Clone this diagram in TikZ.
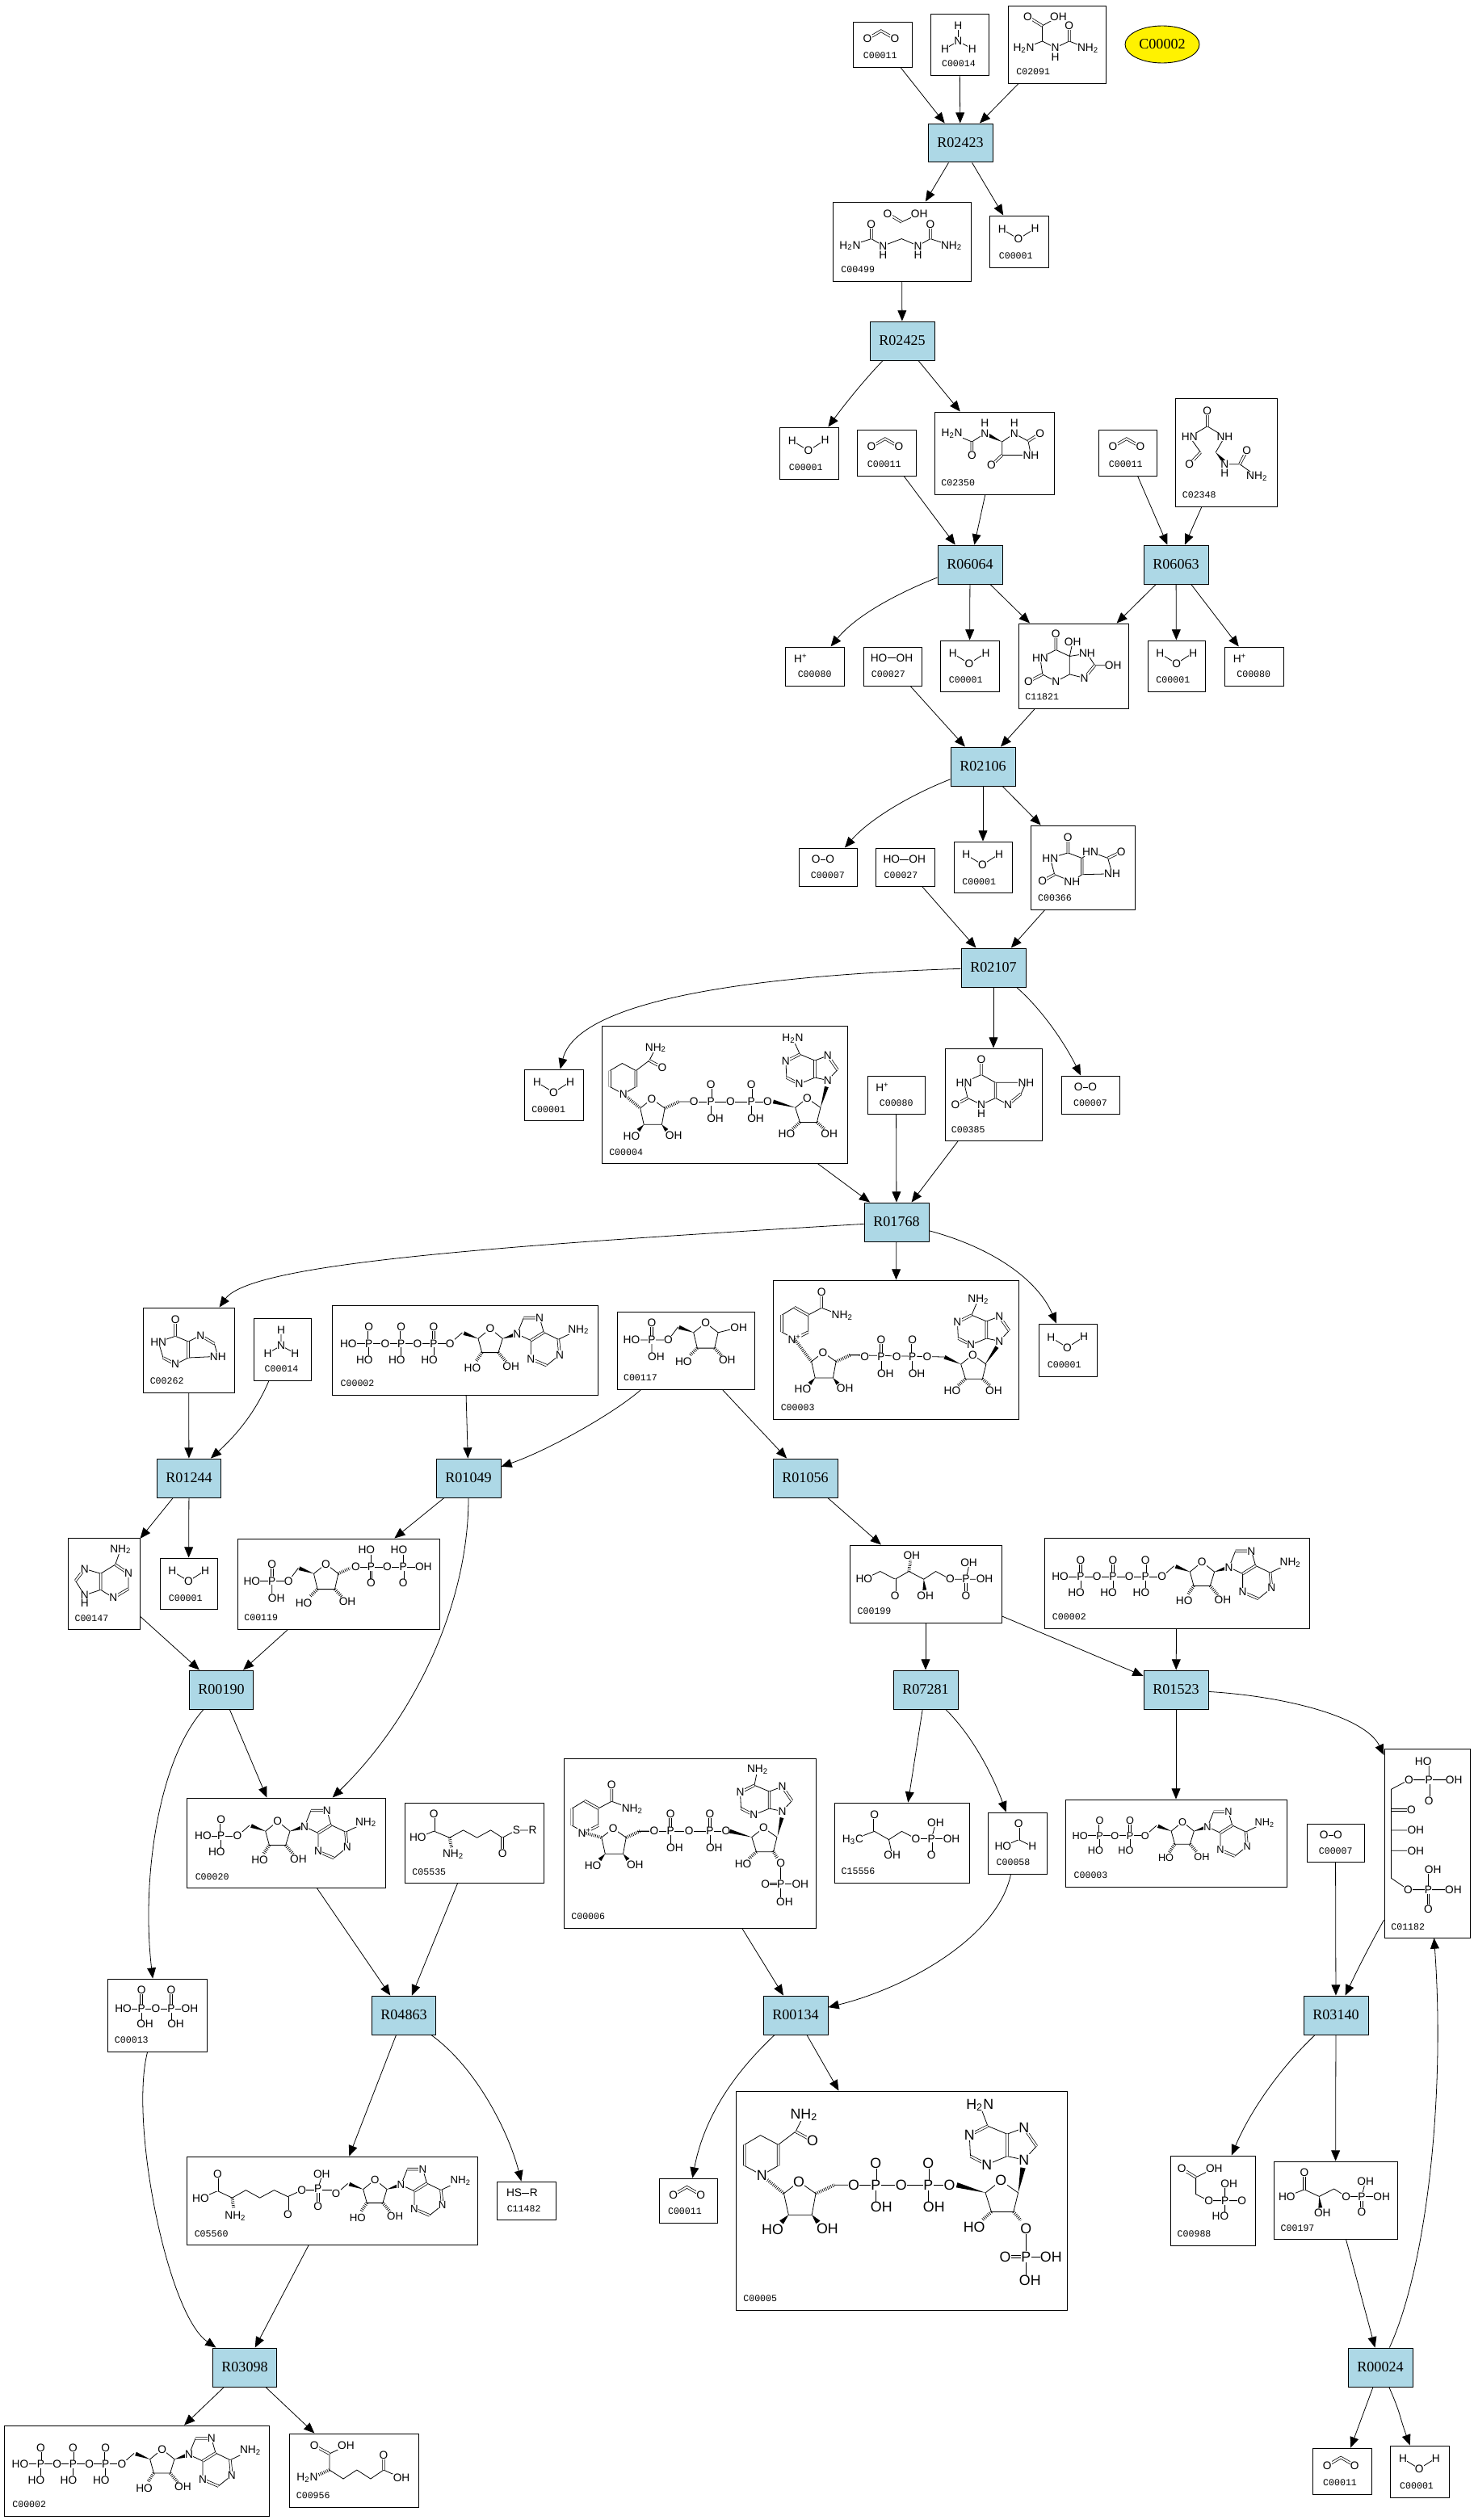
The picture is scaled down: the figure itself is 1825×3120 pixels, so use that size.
\documentclass[tikz,border=0pt]{standalone}
\usepackage{fontspec}
\setmainfont{Liberation Serif}
\setsansfont{Liberation Sans}
\setmonofont{Liberation Mono}
\usepackage{xcolor}
\usepackage{tikz}
\usetikzlibrary{arrows.meta,calc,shapes.geometric}
\definecolor{rxnblue}{RGB}{173,216,230}
\tikzset{
  rxn/.style={draw,fill=rxnblue,line width=0.02cm,minimum width=1.6cm,minimum height=0.96cm,inner sep=0pt,font=\fontsize{10.3}{12}\selectfont},
  cbox/.style={draw,line width=0.02cm,inner sep=0pt},
  tag/.style={anchor=west,inner sep=0pt,font=\ttfamily\fontsize{6.6}{7}\selectfont},
  flow/.style={-{Triangle[length=7.5pt,width=6.2pt]},line width=0.45pt},
  atom/.style={fill=white,inner sep=0.2pt,transform shape,font=\sffamily\fontsize{7.8}{9}\selectfont},
  bond/.style={line width=0.45pt},
  dbl/.style={double,double distance=1.1pt,line width=0.42pt},
  hashb/.style={line width=2.2pt,dash pattern=on 0.4pt off 0.9pt}
}
\newcounter{atomno}
\newcommand{\atm}[2]{\stepcounter{atomno}\node[atom] (atom\theatomno) at (#1) {#2};}
\newcommand{\wdg}[2]{\fill (#1)--($(#2)!1.4pt!90:(#1)$)--($(#2)!1.4pt!-90:(#1)$)--cycle;}
\newcommand{\hsh}[2]{\draw[hashb] (#1)--(#2);}
\newcommand{\NHtwo}{NH\textsubscript{2}}
\newcommand{\HtwoN}{H\textsubscript{2}N}
% compound box: [tag offset]{name}{x1}{y1}{x2}{y2}{tag}{molecule}
\newcommand{\cpd}[8][10]{%
  \node[cbox,minimum width={(round(#5)-round(#3))*0.02cm},minimum height={(round(#6)-round(#4))*0.02cm}] (#2) at ({(round(#3)+round(#5))/2},{(round(#4)+round(#6))/2}) {};
  \node[tag] (#2tag) at (#3+#1,#6-14) {#7};
  \begin{scope}[shift={(#3,#4)}]#8\end{scope}}
% small molecules
\newcommand{\mwater}{\draw[bond] (15.7,16.6)--(36,29)--(56.6,15.8);
  \atm{15.7,16.6}{H}\atm{36,29}{O}\atm{56.6,15.8}{H}}
\newcommand{\mcoo}{\draw[dbl] (18,21)--(34.8,11.2)--(52,21);
  \atm{18,21}{O}\atm{52,21}{O}}
\newcommand{\mammonia}{\draw[bond] (34.4,14.5)--(34.4,34) (18,43.5)--(34.4,34)--(51.7,43.5);
  \atm{34.4,14.5}{H}\atm{34.4,34}{N}\atm{18,43.5}{H}\atm{51.7,43.5}{H}}
\newcommand{\moxy}{\draw[dbl] (21.6,13.8)--(39,13.8);\atm{21.6,13.8}{O}\atm{39,13.8}{O}}
\newcommand{\mperox}{\draw[bond] (19.5,14.3)--(51.4,14.3);\atm{19.5,14.3}{HO}\atm{51.4,14.3}{OH}}
\newcommand{\mproton}{\atm{19,15}{H\textsuperscript{+}}}
% phosphate hanging from a chain
\newcommand{\phosgrp}[1]{\draw[dbl] (#1,47.7)--(#1,27.4);\draw[bond] (#1,47.7)--(#1,62);
  \atm{#1,47.7}{P}\atm{#1,27.4}{O}\atm{#1-5.4,67.7}{HO}}
\newcommand{\phosup}[2]{\draw[dbl] (#1,#2)--(#1,#2-21);\draw[bond] (#1,#2)--(#1,#2+16);
  \atm{#1,#2}{P}\atm{#1,#2-21}{O}\atm{#1+5.4,#2+21}{OH}}
% adenosine, lying flat
\newcommand{\adenosine}{\draw[bond] (146,47.7)--(161,34.4);
  \wdg{180.7,41.7}{163,35}
  \draw[bond] (180.7,41.7)--(195.7,29.4)--(211,41.7)--(205.7,59)--(185.4,59)--cycle;
  \hsh{185.4,59}{178,70}\hsh{205.7,59}{215,70}
  \wdg{211,41.7}{226,37}
  \draw[bond] (229,36)--(237,16) (256.8,16)--(262,34) (246,44)--(229,36) (262,34)--(280,42.7)--(305,30.7) (281.8,61.7)--(265.4,75) (246,66.7)--(246,44);
  \draw[dbl] (237,16)--(256.8,16) (262,34)--(246,44) (280,42.7)--(281.8,61.7) (265.4,75)--(246,66.7);
  \atm{146,47.7}{O}\atm{195.7,29.4}{O}\atm{173.6,77.7}{HO}\atm{221.4,76}{OH}
  \atm{229,36}{N}\atm{256.8,16}{N}\atm{281.8,61.7}{N}\atm{246,66.7}{N}\atm{305,30.7}{\NHtwo}}
\newcommand{\matp}{\draw[bond] (20,47.7)--(146,47.7);
  \phosgrp{45.4}\phosgrp{85.4}\phosgrp{125.7}
  \atm{20,47.7}{HO}\atm{65.7,47.7}{O}\atm{105.7,47.7}{O}\adenosine}
% ribose 5-phosphate part
\newcommand{\ribphos}{\draw[bond] (18.3,35.4)--(63.8,35.4)--(75.9,19.3) (43.3,35.4)--(43.3,52);
  \draw[dbl] (43.3,35.4)--(43.3,14.4);
  \wdg{95,26.3}{77,19.7}
  \draw[bond] (95,26.3)--(110,14.4)--(125.4,26.3)--(121,45.6)--(99.6,45.6)--cycle;
  \hsh{99.6,45.6}{90,55}\hsh{121,45.6}{130,55}
  \atm{18.3,35.4}{HO}\atm{43.3,35.4}{P}\atm{43.3,14.4}{O}\atm{48.7,56.5}{OH}\atm{63.8,35.4}{O}
  \atm{110,14.4}{O}\atm{82.6,62.5}{HO}\atm{136.6,60.7}{OH}}
% NAD parts
\newcommand{\dihyd}{\draw[bond] (26.3,85)--(9.8,76) (9.8,56)--(25,47)--(42,56) (42,76)--(26.3,85) (42,56)--(58.5,43.5)--(66.5,27.7);
  \draw[dbl] (9.8,76)--(9.8,56) (42,56)--(42,76) (58.5,43.5)--(74.6,52.3);
  \hsh{26.3,85}{47.3,102.5}
  \atm{26.3,85}{N}\atm{74.6,52.3}{O}\atm{66.5,27.7}{\NHtwo}}
\newcommand{\pyrid}{\draw[bond] (26.3,73.3)--(10.7,64.6) (10.7,43.5)--(26.3,34) (43.3,43.5)--(43.3,64.6) (43.3,43.5)--(59.8,34.7)--(85.3,44.2);
  \draw[dbl] (10.7,64.6)--(10.7,43.5) (26.3,34)--(43.3,43.5) (43.3,64.6)--(26.3,73.3) (59.8,34.7)--(59.8,14.7);
  \atm{26.3,73.3}{N\textsuperscript{+}}\atm{59.8,14.7}{O}\atm{85.3,44.2}{\NHtwo}}
\newcommand{\ribnic}{\draw[bond] (47.3,102.5)--(61.6,91.2)--(77.7,102.5)--(74,122.8)--(51.8,122.8)--cycle (95.5,94.4)--(113.8,94.4);
  \wdg{51.8,122.8}{45,130}\wdg{74,122.8}{80,130}
  \hsh{77.7,102.5}{95.5,94.4}
  \atm{61.6,91.2}{O}\atm{36.6,136.8}{HO}\atm{88.8,135.8}{OH}}
\newcommand{\ribade}{\draw[bond] (239.3,101.8)--(254,90.2)--(270.5,101.8)--(266,120)--(245,120)--cycle;
  \hsh{245,120}{236,128}
  \atm{254,90.2}{O}\atm{228.6,134.7}{HO}}
\newcommand{\adeninev}[4]{\begin{scope}[shift={(#1,#2)}]
  \draw[bond] (0,0)--(12,-13) (0,-30.5)--(-16,-24.5) (-16,-3.4)--(0,0) (-35.3,4.6)--(-16,-3.4) (-51,-3.4)--(-52,-23.4) (-34.5,-32.2)--(-16,-24.5) (-34.5,-32.2)--(#3,-52);
  \draw[dbl] (12,-13)--(0,-30.5) (-16,-24.5)--(-16,-3.4) (-35.3,4.6)--(-51,-3.4) (-52,-23.4)--(-34.5,-32.2);
  \atm{0,0}{N}\atm{0,-30.5}{N}\atm{-35.3,4.6}{N}\atm{-52,-23.4}{N}\atm{#3,-52}{#4}
  \end{scope}}
\newcommand{\mnadh}{\dihyd\ribnic
  \draw[bond] (113.8,94.4)--(205,94.4);
  \phosup{134.8}{94.4}\phosup{184.8}{94.4}
  \atm{113.8,94.4}{O}\atm{159,94.4}{O}\atm{205,94.4}{O}
  \wdg{239.3,101.8}{212,94.4}\ribade
  \wdg{270.5,101.8}{278,76}\adeninev{279.5}{68}{-43.5}{\HtwoN}}
\begin{document}
\begin{tikzpicture}[x=0.02cm,y=-0.02cm]
\useasboundingbox (0,0) rectangle (1825,3120);
% reactions
\node[rxn] (R02423) at (1189,177) {R02423};
\node[rxn] (R02425) at (1117,422) {R02425};
\node[rxn] (R06064) at (1201,699) {R06064};
\node[rxn] (R06063) at (1456,699) {R06063};
\node[rxn] (R02106) at (1217,949) {R02106};
\node[rxn] (R02107) at (1230,1198) {R02107};
\node[rxn] (R01768) at (1110,1513) {R01768};
\node[rxn] (R01244) at (234,1830) {R01244};
\node[rxn] (R01049) at (580,1830) {R01049};
\node[rxn] (R01056) at (997,1830) {R01056};
\node[rxn] (R00190) at (274,2092) {R00190};
\node[rxn] (R07281) at (1146,2092) {R07281};
\node[rxn] (R01523) at (1456,2092) {R01523};
\node[rxn] (R04863) at (500,2495) {R04863};
\node[rxn] (R00134) at (985,2495) {R00134};
\node[rxn] (R03140) at (1654,2495) {R03140};
\node[rxn] (R03098) at (303,2931) {R03098};
\node[rxn] (R00024) at (1709,2931) {R00024};
\node[draw,fill=yellow,ellipse,line width=0.5pt,minimum width=1.84cm,minimum height=0.92cm,inner sep=0pt,font=\fontsize{10.3}{12}\selectfont] (Cmain) at (1439,55) {C00002};
% compounds
\cpd[12.5]{CO2a}{1056}{27}{1129}{83}{C00011}{\mcoo}
\cpd[13.7]{NH3a}{1152}{17}{1224}{93}{C00014}{\mammonia}
\cpd{C02091}{1248}{7}{1369}{103}{C02091}{\draw[bond] (42.5,24.9)--(62.4,13.7) (42.5,24.9)--(42.5,44) (19.5,53)--(42.5,44)--(58.6,52.2)--(75.8,44)--(99,53);
  \draw[dbl] (24.5,13.7)--(42.5,24.9) (75.8,44)--(75.8,24.9);
  \atm{24.5,13.7}{O}\atm{62.4,13.7}{OH}\atm{19.5,53}{\HtwoN}\atm{58.6,52.2}{N}\atm{58.6,63.4}{H}\atm{75.8,24.9}{O}\atm{99,53}{\NHtwo}}
\cpd{C00499}{1031}{250}{1202}{348}{C00499}{\draw[bond] (85.3,24.9)--(107.2,14.5) (21.4,54.3)--(47.8,45.6)--(62.4,54.3)--(85.3,45.6)--(105.6,54.3)--(120.9,45.6)--(147,54.3);
  \draw[dbl] (68,14.5)--(85.3,24.9) (47.8,45.6)--(47.8,27.4) (120.9,45.6)--(120.9,27.4);
  \atm{68,14.5}{O}\atm{107.2,14.5}{OH}\atm{21.4,54.3}{\HtwoN}\atm{47.8,27.4}{O}\atm{62.4,54.3}{N}\atm{62.4,65.5}{H}\atm{105.6,54.3}{N}\atm{105.6,65.5}{H}\atm{120.9,27.4}{O}\atm{147,54.3}{\NHtwo}}
\cpd[11.5]{H2Oa}{1225}{267}{1298}{331}{C00001}{\mwater}
\cpd[11.5]{H2Ob}{965}{529}{1037.5}{592.5}{C00001}{\mwater}
\cpd[12.5]{CO2b}{1061}{532}{1134}{588.5}{C00011}{\mcoo}
\cpd[8]{C02350}{1157}{509.5}{1304.5}{612}{C02350}{\draw[bond] (21.6,27.2)--(46.4,37.5)--(62.2,27.2) (98.7,27.2)--(83.7,37.5)--(83.7,54)--(119.4,54)--(116,36.6)--(98.7,27.2);
  \draw[dbl] (46.4,37.5)--(46.4,54) (116,36.6)--(130.6,27.2) (83.7,54)--(70.5,66.5);
  \wdg{83.7,37.5}{66,29}
  \atm{21.6,27.2}{\HtwoN}\atm{46.4,54}{O}\atm{62.2,27.2}{N}\atm{62.2,14.3}{H}\atm{98.7,27.2}{N}\atm{98.7,14.3}{H}\atm{130.6,27.2}{O}\atm{119.4,54}{NH}\atm{70.5,66.5}{O}}
\cpd[12.5]{CO2c}{1360}{532}{1432}{588.5}{C00011}{\mcoo}
\cpd[8.5]{C02348}{1455}{493}{1580.6}{627}{C02348}{\draw[bond] (17.8,47.8)--(39.8,34.8)--(61.4,47.8)--(50.2,67) (17.8,47.8)--(31.5,67) (61.4,81.7)--(80,81.7)--(101.2,96.9);
  \draw[dbl] (39.8,34.8)--(39.8,15.6) (31.5,67)--(17.8,81.7) (80,81.7)--(88.7,64.7);
  \wdg{50.2,67}{60,78}
  \atm{39.8,15.6}{O}\atm{17.8,47.8}{HN}\atm{61.4,47.8}{NH}\atm{17.8,81.7}{O}\atm{61.4,81.7}{N}\atm{61.4,92.9}{H}\atm{88.7,64.7}{O}\atm{101.2,96.9}{\NHtwo}}
\cpd[15]{Hpa}{972.4}{800.5}{1044.5}{849}{C00080}{\mproton}
\cpd{H2O2a}{1068.6}{800.5}{1140.7}{849}{C00027}{\mperox}
\cpd[10.5]{H2Oc}{1164}{792.5}{1236.5}{856}{C00001}{\mwater}
\cpd[8.5]{C11821}{1260.5}{771.5}{1396.5}{877}{C11821}{\draw[bond] (46.8,33)--(27.4,43.3)--(30.3,63.4) (46.8,72.3)--(63.8,63.4)--(63.8,41)--(46.8,33) (63.8,41)--(67.6,23.2) (63.8,41)--(85.4,37.5)--(95,52.2)--(117.7,52.2) (82.1,67.9)--(63.8,63.4);
  \draw[dbl] (46.8,33)--(46.8,13.4) (30.3,63.4)--(12.9,72.3);
  \draw[bond] (30.3,63.4)--(46.8,72.3);
  \draw[dbl] (95,52.2)--(82.1,67.9);
  \atm{46.8,13.4}{O}\atm{67.6,23.2}{OH}\atm{27.4,43.3}{HN}\atm{12.9,72.3}{O}\atm{46.8,72.3}{N}\atm{85.4,37.5}{NH}\atm{117.7,52.2}{OH}\atm{82.1,67.9}{N}}
\cpd[10.5]{H2Od}{1420.6}{792.5}{1492}{856}{C00001}{\mwater}
\cpd[15]{Hpb}{1516}{800.5}{1588.5}{849}{C00080}{\mproton}
\cpd[15]{O2a}{988.6}{1049.6}{1060.7}{1097.4}{C00007}{\moxy}
\cpd{H2O2b}{1084.3}{1049.6}{1156.5}{1097.4}{C00027}{\mperox}
\cpd[10.5]{H2Oe}{1180.5}{1041.6}{1252.7}{1105.4}{C00001}{\mwater}
\cpd[8.5]{C00366}{1276.3}{1021.5}{1404.8}{1125.5}{C00366}{\draw[bond] (46,34.4)--(24,41)--(29.4,61.2)--(51,70)--(63.4,61.2) (63.4,41)--(46,34.4) (63.4,41)--(73.8,33)--(95.4,41)--(100.7,60.3)--(63.4,61.2);
  \draw[dbl] (46,34.4)--(46,15.6) (29.4,61.2)--(14.5,69.2) (63.4,41)--(63.4,61.2) (95.4,41)--(112,33);
  \atm{46,15.6}{O}\atm{24,41}{HN}\atm{14.5,69.2}{O}\atm{51,70}{NH}\atm{73.8,33}{HN}\atm{112,33}{O}\atm{100.7,60.3}{NH}}
\cpd[8.5]{H2Of}{649.4}{1323.5}{721.7}{1387.4}{C00001}{\mwater}
\cpd[8.5]{C00004}{745.4}{1269.5}{1049.4}{1440.4}{C00004}{\mnadh\hsh{266,120}{275,128}\atm{281.3,134.7}{OH}}
\cpd[15]{Hpc}{1073.5}{1331.6}{1145.4}{1379.3}{C00080}{\mproton}
\cpd[8]{C00385}{1169.5}{1297.5}{1289.6}{1412.3}{C00385}{\draw[bond] (45.5,33)--(24,42.8)--(28.6,62)--(45.5,70)--(63,62)--(78.6,70)  (63,42.8)--(45.5,33) (63,42.8)--(100.9,42.8)--(94.6,56.8);
  \draw[dbl] (45.5,33)--(45.5,14.7) (28.6,62)--(13.4,70) (63,42.8)--(63,62) (94.6,56.8)--(78.6,70);
  \atm{45.5,14.7}{O}\atm{24,42.8}{HN}\atm{13.4,70}{O}\atm{45.5,70}{N}\atm{45.5,81.4}{H}\atm{100.9,42.8}{NH}\atm{78.6,70}{N}}
\cpd[15]{O2b}{1313.7}{1331.6}{1386}{1379.3}{C00007}{\moxy}
\cpd[9]{C00003}{957.4}{1584.6}{1261.4}{1757}{C00003}{\pyrid
  \begin{scope}[shift={(0,-1.4)}]\hsh{26.3,74.7}{47.3,102.5}\ribnic\end{scope}
  \draw[bond] (94,93)--(211.6,95.4);
  \phosup{133.5}{95.4}\phosup{172.3}{95.4}
  \atm{113.4,95.4}{O}\atm{152.7,95.4}{O}\atm{190.6,95.4}{O}
  \begin{scope}[shift={(-7,2.6)}]\wdg{239.3,101.8}{219,93}\ribade\hsh{266,120}{275,128}\atm{280,135}{OH}\end{scope}
  \wdg{262,105}{277,83}\adeninev{280}{75.8}{-26}{\NHtwo}}
\cpd[11]{H2Og}{1285.5}{1639.3}{1357.5}{1703.5}{C00001}{\mwater}
\cpd[8]{C00262}{177.4}{1619}{289.5}{1723.7}{C00262}{\draw[bond] (39.7,35.3)--(18.8,42.4)--(24.6,62) (39.7,70)--(55.8,62)--(92.4,60.3)--(88,44.6) (55.8,42)--(39.7,35.3) (55.8,42)--(71,34.4);
  \draw[dbl] (39.7,35.3)--(39.7,15.2) (24.6,62)--(39.7,70) (55.8,42)--(55.8,62) (71,34.4)--(88,44.6);
  \atm{39.7,15.2}{O}\atm{18.8,42.4}{HN}\atm{39.7,70}{N}\atm{71,34.4}{N}\atm{92.4,60.3}{NH}}
\cpd[13.7]{NH3b}{313.6}{1632}{385.4}{1709}{C00014}{\mammonia}
\cpd{ATPa}{411.3}{1615.6}{739.5}{1727}{C00002}{\matp}
\cpd[8]{C00117}{763.7}{1623.5}{933.7}{1719.6}{C00117}{\draw[bond] (125.4,26.3)--(151,20);\ribphos\atm{151,20}{OH}}
\cpd[8.5]{C00147}{83.7}{1903.6}{173.4}{2017.4}{C00147}{\draw[bond] (65.6,14.7)--(59,33.5) (75.4,44.6)--(75.4,63.4) (56.7,74.6)--(41,64.7) (59,33.5)--(41,44.6)--(21,38.8) (9.8,53.6)--(21,71.4)--(41,64.7);
  \draw[dbl] (59,33.5)--(75.4,44.6) (75.4,63.4)--(56.7,74.6) (41,44.6)--(41,64.7) (21,38.8)--(9.8,53.6);
  \atm{65.6,14.7}{\NHtwo}\atm{75.4,44.6}{N}\atm{56.7,74.6}{N}\atm{21,38.8}{N}\atm{21,71.4}{N}\atm{21,81.3}{H}}
\cpd[11]{H2Oh}{197.5}{1928.6}{269.4}{1992.4}{C00001}{\mwater}
\cpd[8.5]{C00119}{293.5}{1904.5}{544.4}{2016.5}{C00119}{\begin{scope}[shift={(0,17.5)}]\ribphos\hsh{125.4,26.3}{140,19.5}\end{scope}
  \draw[bond] (146.9,35.7)--(230.8,35.7) (166,35.7)--(166,20) (205.8,35.7)--(205.8,20);
  \draw[dbl] (166,35.7)--(166,55.4) (205.8,35.7)--(205.8,55.4);
  \atm{146.9,35.7}{O}\atm{166,35.7}{P}\atm{160.3,14.7}{HO}\atm{166,55.4}{O}\atm{186,35.7}{O}\atm{205.8,35.7}{P}\atm{200.4,14.7}{HO}\atm{205.8,55.4}{O}\atm{230.8,35.7}{OH}}
\cpd[9]{C00199}{1052.3}{1912.6}{1239.7}{2008.6}{C00199}{\draw[bond] (17.5,42.6)--(37.5,32.9)--(56,42.6)--(73,32.9)--(91.4,42.6)--(106.3,32.9)--(124.2,42.6)--(166.8,42.6) (143.7,42.6)--(147.3,26);
  \draw[dbl] (56,42.6)--(56,63) (143.7,42.6)--(143.7,63);
  \hsh{73,32.9}{75,19}\wdg{91.4,42.6}{92.5,56}
  \atm{17.5,42.6}{HO}\atm{56,63}{O}\atm{76.5,12.8}{OH}\atm{93.4,63}{OH}\atm{124.2,42.6}{O}\atm{143.7,42.6}{P}\atm{147.3,22.6}{OH}\atm{143.7,63}{O}\atm{166.8,42.6}{OH}}
\cpd{ATPb}{1292.6}{1904.4}{1620.6}{2015.8}{C00002}{\matp}
\cpd{C00020}{231.4}{2225.5}{476.5}{2337.3}{C00020}{\begin{scope}[shift={(-83.4,0)}]\draw[bond] (103.4,47.7)--(146,47.7);\phosgrp{125.7}\atm{103.4,47.7}{HO}\adenosine\end{scope}}
\cpd[9.5]{C05535}{500.6}{2232.4}{673.4}{2331.2}{C05535}{\draw[bond] (16.7,42.8)--(36.7,34.7)--(56,42.8)--(73,33.5)--(90,42.8)--(107,33.5)--(121.5,42.8)--(138.8,33.5)--(159,33.5);
  \draw[dbl] (36.7,34.7)--(36.7,13) (121.5,42.8)--(121.5,62);
  \hsh{56,42.8}{58.5,55}
  \atm{36.7,13}{O}\atm{16.7,42.8}{HO}\atm{60.4,63}{\NHtwo}\atm{121.5,62}{O}\atm{138.8,33.5}{S}\atm{159,33.5}{R}}
\cpd[9.5]{C00006}{697.5}{2176.5}{1009.8}{2387}{C00006}{\begin{scope}[shift={(0,19)}]\pyrid\end{scope}
  \begin{scope}[shift={(0,-4)}]\hsh{26.3,96.7}{47.3,102.5}\ribnic\end{scope}
  \draw[bond] (91.3,90.6)--(201.5,90.6);
  \phosup{132.6}{90.6}\phosup{181.4}{90.6}
  \atm{112.5,90.6}{O}\atm{155.6,90.6}{O}\atm{201.5,90.6}{O}
  \begin{scope}[shift={(-6,-3.7)}]\wdg{239.3,101.8}{212,94.3}\ribade\end{scope}
  \hsh{259.5,115}{265,124}
  \draw[bond] (269.2,130)--(269.2,178) (269.2,156)--(293.3,156);
  \draw[dbl] (269.2,156)--(250.3,156);
  \atm{269.2,130}{O}\atm{269.2,156}{P}\atm{250.3,156}{O}\atm{293.3,156}{OH}\atm{274,178}{OH}
  \wdg{265.2,96.7}{270.5,74}\adeninev{271}{66}{-30.5}{\NHtwo}}
\cpd[8]{C15556}{1033.3}{2232.4}{1199.7}{2331}{C15556}{\draw[bond] (22.6,45.2)--(49.3,34.9)--(67.2,45.2)--(83.2,34.9)--(100.6,44)--(144.8,44) (67.2,45.2)--(71.4,64.7) (120,44)--(125.2,24.6);
  \draw[dbl] (49.3,34.9)--(49.3,14.4) (120,44)--(120,64.7);
  \atm{22.6,45.2}{H\textsubscript{3}C}\atm{49.3,14.4}{O}\atm{71.4,64.7}{OH}\atm{100.6,44}{O}\atm{120,44}{P}\atm{125.2,24.6}{OH}\atm{120,64.7}{O}\atm{144.8,44}{OH}}
\cpd{C00058}{1223.3}{2244.2}{1295.7}{2319.7}{C00058}{\draw[bond] (18.5,42)--(38,33.4)--(55,42);
  \draw[dbl] (38,33.4)--(38,13.3);
  \atm{38,13.3}{O}\atm{18.5,42}{HO}\atm{55,42}{H}}
\cpd{C00003b}{1319.3}{2228.3}{1593.4}{2335.6}{C00003}{\begin{scope}[scale=.93,shift={(-40,0)}]\draw[bond] (59.2,47.7)--(146,47.7);\phosgrp{85.4}\phosgrp{125.7}\atm{59.2,47.7}{HO}\atm{105.7,47.7}{O}\adenosine\end{scope}}
\cpd[8.5]{C01182}{1713.5}{2164.6}{1820.3}{2399.2}{C01182}{\draw[bond] (31,39)--(9,50.7)--(9,160.7)--(30,175)--(86,175) (31,39)--(86.7,39) (55.7,39)--(55.7,20) (9,101.3)--(39.3,101.3) (9,126.7)--(39.3,126.7) (55,175)--(55,154);
  \draw[dbl] (55.7,39)--(55.7,64.7) (9,76.3)--(34,76.3) (55,175)--(55,199);
  \atm{48.7,15.7}{HO}\atm{31,39}{O}\atm{55.7,39}{P}\atm{86.7,39}{OH}\atm{55.7,64.7}{O}\atm{34,76.3}{O}\atm{39.3,101.3}{OH}\atm{39.3,126.7}{OH}\atm{30,175}{O}\atm{55,175}{P}\atm{60.7,149.7}{OH}\atm{86,175}{OH}\atm{55,199}{O}}
\cpd[15]{O2c}{1617.5}{2257.6}{1689.4}{2305.3}{C00007}{\moxy}
\cpd[9]{C00013}{132.6}{2449.6}{255.5}{2540}{C00013}{\draw[bond] (20,37.5)--(102.3,37.5) (42.5,37.5)--(42.5,52) (79.3,37.5)--(79.3,52);
  \draw[dbl] (42.5,37.5)--(42.5,14) (79.3,37.5)--(79.3,14);
  \atm{20,37.5}{HO}\atm{42.5,37.5}{P}\atm{42.5,14}{O}\atm{47,56.4}{OH}\atm{60.3,37.5}{O}\atm{79.3,37.5}{P}\atm{79.3,14}{O}\atm{85,56.4}{OH}\atm{102.3,37.5}{OH}}
\cpd[9]{C05560}{231.4}{2669.6}{591.3}{2779.4}{C05560}{\draw[bond] (17,52)--(38,43)--(56,51.5)--(73,42)--(90.3,51.5)--(108,42)--(125,50)--(142.3,42)--(184,42) (162.4,40)--(166.9,25);
  \draw[dbl] (38,43)--(38,22) (125,50)--(125,71.8) (162.4,40)--(162.4,62);
  \hsh{56,51.5}{58,65}
  \atm{17,52}{HO}\atm{38,22}{O}\atm{60,74}{\NHtwo}\atm{125,71.8}{O}\atm{142.3,42}{O}\atm{162.4,40}{P}\atm{166.9,22}{OH}\atm{162.4,62}{O}
  \begin{scope}[shift={(43,.5)},scale=.97]\adenosine\end{scope}}
\cpd[12]{C11482}{615.4}{2700.6}{687.7}{2748.4}{C11482}{\draw[bond] (21.2,14.3)--(45.3,14.3);\atm{21.2,14.3}{HS}\atm{45.3,14.3}{R}}
\cpd[11]{CO2d}{815.7}{2696.5}{887.5}{2752}{C00011}{\mcoo}
\cpd[9]{C00005}{911}{2589}{1321}{2860}{C00005}{\begin{scope}[shift={(-2,-6.5)},scale=1.3]
  \dihyd\ribnic
  \draw[bond] (113.8,94.4)--(205,94.4);
  \phosup{134.8}{94.4}\phosup{184.8}{94.4}
  \atm{113.8,94.4}{O}\atm{159,94.4}{O}\atm{205,94.4}{O}
  \wdg{239.3,101.8}{212,94.4}\ribade
  \hsh{266,120}{273,128}
  \draw[bond] (277.9,135.8)--(277.9,185) (277.9,162.7)--(301.8,162.7);
  \draw[dbl] (277.9,162.7)--(258.2,162.7);
  \atm{277.9,135.8}{O}\atm{277.9,162.7}{P}\atm{258.2,162.7}{O}\atm{301.8,162.7}{OH}\atm{281.8,185.5}{OH}
  \wdg{270.5,101.8}{275,78}\adeninev{276}{70.4}{-42}{\HtwoN}
  \end{scope}}
\cpd[8]{C00988}{1449.3}{2669.2}{1553.7}{2779.6}{C00988}{\draw[bond] (31.3,26.5)--(54,15.4) (31.3,26.5)--(31.3,47.4)--(47.3,55.4)--(88.3,55.4) (67.3,55.4)--(67.3,38) (67.3,55.4)--(67.3,70);
  \draw[dbl] (14,15.8)--(31.3,26.5);
  \atm{14,15.8}{O}\atm{54,15.4}{OH}\atm{47.3,55.4}{O}\atm{67.3,55.4}{P}\atm{72.3,34.8}{OH}\atm{88.3,55.4}{O}\atm{61.7,75}{HO}}
\cpd[8]{C00197}{1577.3}{2676.4}{1729.7}{2772.4}{C00197}{\draw[bond] (16,43)--(37.7,34.4)--(56,43)--(74.3,33.6)--(89.3,43)--(133.3,43) (108.7,43)--(113.3,24);
  \draw[dbl] (37.7,34.4)--(37.7,13.4) (108.7,43)--(108.7,62);
  \wdg{56,43}{57.5,57}
  \atm{37.7,13.4}{O}\atm{16,43}{HO}\atm{60,62.9}{OH}\atm{89.3,43}{O}\atm{108.7,43}{P}\atm{113.3,24}{OH}\atm{108.7,62}{O}\atm{133.3,43}{OH}}
\cpd{ATPc}{5}{3003}{333}{3115}{C00002}{\matp}
\cpd[9]{C00956}{357.5}{3013}{517.5}{3104}{C00956}{\draw[bond] (50.4,25)--(71,15) (50.4,25)--(50.4,45)--(67.5,56)--(84.3,45)--(101.4,56)--(117.5,45)--(139.6,55);
  \draw[dbl] (31.8,15)--(50.4,25) (117.5,45)--(117.5,26.7);
  \hsh{50.4,45}{35,52}
  \atm{31.8,15}{O}\atm{71,15}{OH}\atm{22.9,55}{\HtwoN}\atm{117.5,26.7}{O}\atm{139.6,55}{OH}}
\cpd[12.5]{CO2e}{1625.3}{3031.4}{1697.7}{3087.6}{C00011}{\mcoo}
\cpd[11.5]{H2Oi}{1721.3}{3027.5}{1793.7}{3091.5}{C00001}{\mwater}
% connectors
\draw[flow] (CO2a)--(R02423);
\draw[flow] (NH3a)--(R02423);
\draw[flow] (C02091)--(R02423);
\draw[flow] (R02423)--(C00499);
\draw[flow] (R02423)--(H2Oa);
\draw[flow] (C00499)--(R02425);
\draw[flow] (R02425) .. controls (1075,465) and (1050,495) .. (H2Ob);
\draw[flow] (R02425)--(C02350);
\draw[flow] (CO2b)--(R06064);
\draw[flow] (C02350)--(R06064);
\draw[flow] (CO2c)--(R06063);
\draw[flow] (C02348)--(R06063);
\draw[flow] (R06064) .. controls (1110,735) and (1060,762) .. (Hpa);
\draw[flow] (R06064)--(H2Oc);
\draw[flow] (R06064)--(C11821);
\draw[flow] (R06063)--(C11821);
\draw[flow] (R06063)--(H2Od);
\draw[flow] (R06063)--(Hpb);
\draw[flow] (H2O2a)--(R02106);
\draw[flow] (C11821)--(R02106);
\draw[flow] (R02106) .. controls (1125,985) and (1076,1015) .. (O2a);
\draw[flow] (R02106)--(H2Oe);
\draw[flow] (R02106)--(C00366);
\draw[flow] (H2O2b)--(R02107);
\draw[flow] (C00366)--(R02107);
\draw[flow] (R02107) .. controls (920,1208) and (715,1240) .. (H2Of);
\draw[flow] (R02107)--(C00385);
\draw[flow] (R02107) .. controls (1285,1245) and (1315,1285) .. (O2b);
\draw[flow] (C00004)--(R01768);
\draw[flow] (Hpc)--(R01768);
\draw[flow] (C00385)--(R01768);
\draw[flow] (R01768) .. controls (600,1543) and (310,1565) .. (C00262);
\draw[flow] (R01768)--(C00003);
\draw[flow] (R01768) .. controls (1230,1545) and (1285,1585) .. (H2Og);
\draw[flow] (C00262)--(R01244);
\draw[flow] (NH3b) .. controls (320,1740) and (300,1770) .. (R01244);
\draw[flow] (ATPa)--(R01049);
\draw[flow] (C00117) .. controls (760,1750) and (680,1795) .. (R01049);
\draw[flow] (C00117)--(R01056);
\draw[flow] (R01244)--(C00147);
\draw[flow] (R01244)--(H2Oh);
\draw[flow] (R01049)--(C00119);
\draw[flow] (R01049) .. controls (580,1990) and (510,2130) .. (C00020);
\draw[flow] (R01056)--(C00199);
\draw[flow] (C00147)--(R00190);
\draw[flow] (C00119)--(R00190);
\draw[flow] (C00199)--(R07281);
\draw[flow] (C00199)--(R01523);
\draw[flow] (ATPb)--(R01523);
\draw[flow] (R00190) .. controls (195,2180) and (175,2330) .. (C00013);
\draw[flow] (R00190)--(C00020);
\draw[flow] (R07281)--(C15556);
\draw[flow] (R07281) .. controls (1205,2150) and (1230,2200) .. (C00058);
\draw[flow] (R01523)--(C00003b);
\draw[flow] (R01523) .. controls (1590,2100) and (1690,2125) .. (C01182);
\draw[flow] (C00020)--(R04863);
\draw[flow] (C05535)--(R04863);
\draw[flow] (C00006)--(R00134);
\draw[flow] (C00058) .. controls (1235,2400) and (1120,2462) .. (R00134);
\draw[flow] (C01182) .. controls (1695,2410) and (1680,2440) .. (R03140);
\draw[flow] (O2c)--(R03140);
\draw[flow] (R04863)--(C05560);
\draw[flow] (R04863) .. controls (590,2560) and (630,2640) .. (C11482);
\draw[flow] (R00134) .. controls (900,2575) and (870,2630) .. (CO2d);
\draw[flow] (R00134)--(C00005);
\draw[flow] (R03140) .. controls (1580,2565) and (1545,2620) .. (C00988);
\draw[flow] (R03140)--(C00197);
\draw[flow] (C00013) .. controls (160,2627) and (207,2865) .. (R03098);
\draw[flow] (C05560)--(R03098);
\draw[flow] (C00197)--(R00024);
\draw[flow] (R00024) .. controls (1765,2810) and (1790,2600) .. (C01182);
\draw[flow] (R03098)--(ATPc);
\draw[flow] (R03098)--(C00956);
\draw[flow] (R00024)--(CO2e);
\draw[flow] (R00024) .. controls (1735,2990) and (1732,2990) .. (H2Oi);
\end{tikzpicture}
\end{document}
